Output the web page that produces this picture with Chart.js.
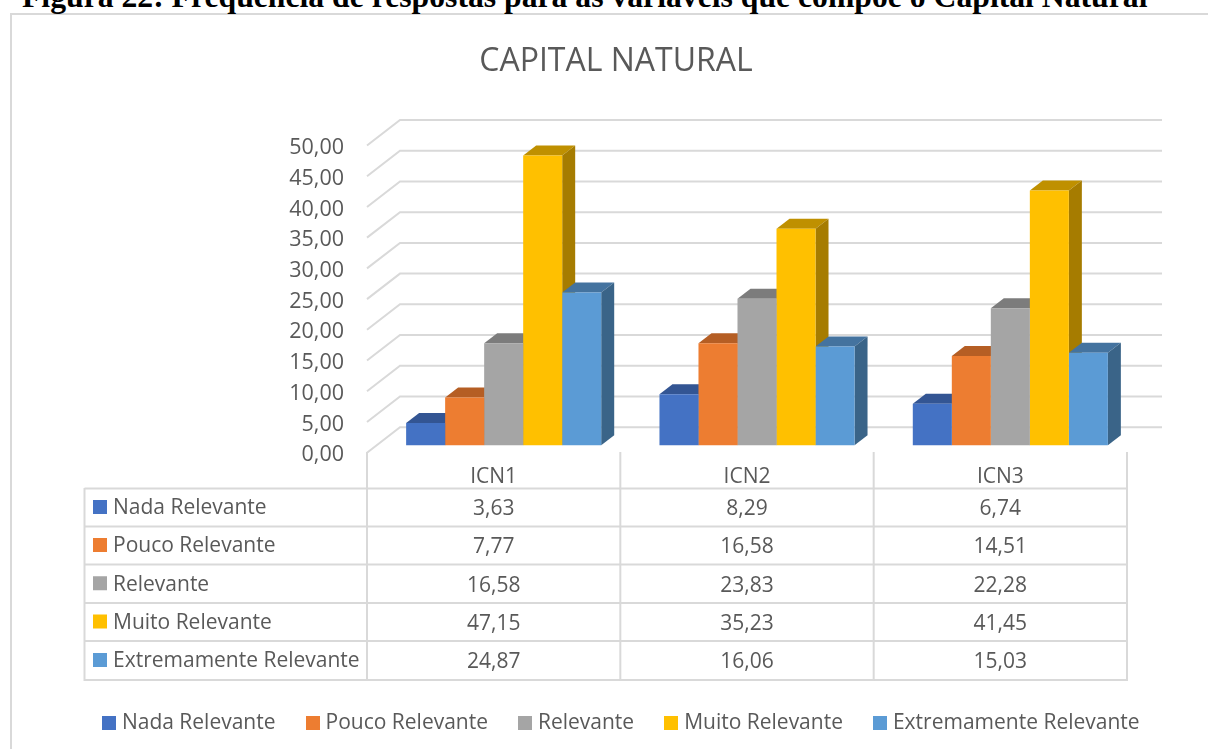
<!DOCTYPE html>
<html><head><meta charset="utf-8">
<style>
html,body{margin:0;padding:0;background:#fff;overflow:hidden}
#wrap{position:relative;width:1208px;height:749px;overflow:hidden}
#head{position:absolute;left:22px;top:-21px;font:bold 31.7px "Liberation Serif",serif;color:#000;white-space:nowrap}
#frame{position:absolute;left:10px;top:13px;width:1210px;height:760px;border:2px solid #d9d9d9;box-sizing:border-box}
canvas{position:absolute;left:0;top:0}
</style></head><body>
<div id="wrap">
<div id="frame"></div>
<div id="head">Figura 22: Frequência de respostas para as variáveis que compõe o Capital Natural</div>
<canvas id="c" width="1208" height="749"></canvas>
</div>
<script src="https://cdn.jsdelivr.net/npm/chart.js@4"></script>
<script>
const chartTitle = "CAPITAL NATURAL";
const categories = ["ICN1","ICN2","ICN3"];
const seriesNames = ["Nada Relevante","Pouco Relevante","Relevante","Muito Relevante","Extremamente Relevante"];
const nadaRelevante = [3.63,8.29,6.74];
const poucoRelevante = [7.77,16.58,14.51];
const relevante = [16.58,23.83,22.28];
const muitoRelevante = [47.15,35.23,41.45];
const extremamenteRelevante = [24.87,16.06,15.03];
const seriesValues = [nadaRelevante,poucoRelevante,relevante,muitoRelevante,extremamenteRelevante];
const colors = ["#4472C4","#ED7D31","#A5A5A5","#FFC000","#5B9BD5"];
const topColors = ["#335593","#B55E24","#7C7C7C","#BF9000","#44739F"];
const sideColors = ["#2A4A80","#9A5020","#6A6A6A","#A67C00","#3A6488"];
const FONT = '"Open Sans"';
const TEXT = "#595959", GRID = "#d9d9d9";
const fmt = v => v.toFixed(2).replace(".",",");

const swatch = c => { const s=document.createElement("canvas"); s.width=14; s.height=14;
  const g=s.getContext("2d"); g.fillStyle=c; g.fillRect(0,0,14,14); return s; };

const BAR_DX=10, BAR_DY=-10, LEGEND_SHIFT=7;
const threeD = {
  id:"threeD",
  afterLayout(chart){ chart.legend.left+=LEGEND_SHIFT; chart.legend.right+=LEGEND_SHIFT; },
  beforeDatasetsDraw(chart){
    const {ctx,scales:{x,y}} = chart;
    const L=x.left, dx=33, wallR=1162;
    ctx.save();
    ctx.strokeStyle=GRID; ctx.lineWidth=2;
    y.ticks.forEach(t=>{
      const py=y.getPixelForValue(t.value);
      ctx.beginPath(); ctx.moveTo(L,py-2.5); ctx.lineTo(L+dx,py-28); ctx.lineTo(wallR,py-28); ctx.stroke();
    });
    ctx.restore();
    ctx.save(); ctx.translate(BAR_DX,BAR_DY);
    const sx=13, sy=10;
    seriesValues.forEach((_,i)=>{
      chart.getDatasetMeta(i).data.forEach(b=>{
        const xl=b.x-b.width/2, xr=b.x+b.width/2, yt=b.y, yb=b.base;
        ctx.fillStyle=topColors[i];
        ctx.beginPath(); ctx.moveTo(xl,yt); ctx.lineTo(xl+sx,yt-sy); ctx.lineTo(xr+sx,yt-sy); ctx.lineTo(xr,yt); ctx.closePath(); ctx.fill();
        ctx.fillStyle=sideColors[i];
        ctx.beginPath(); ctx.moveTo(xr,yt); ctx.lineTo(xr+sx,yt-sy); ctx.lineTo(xr+sx,yb-sy); ctx.lineTo(xr,yb); ctx.closePath(); ctx.fill();
      });
    });
    ctx.restore();
    ctx.save(); ctx.translate(BAR_DX,BAR_DY);
  },
  afterDatasetsDraw(chart){ chart.ctx.restore(); },
  afterDraw(chart){
    const {ctx,scales:{x}} = chart;
    const rows=[488.5,526.5,564.5,603,641,680], left=84.5;
    const cols=[x.left, (x.getPixelForTick(0)+x.getPixelForTick(1))/2,
                (x.getPixelForTick(1)+x.getPixelForTick(2))/2, x.right];
    ctx.save();
    ctx.strokeStyle=GRID; ctx.lineWidth=2;
    rows.forEach(r=>{ctx.beginPath();ctx.moveTo(left,r);ctx.lineTo(x.right+1,r);ctx.stroke();});
    cols.forEach(c=>{ctx.beginPath();ctx.moveTo(c,452);ctx.lineTo(c,681);ctx.stroke();});
    ctx.beginPath();ctx.moveTo(left,488);ctx.lineTo(left,681);ctx.stroke();
    ctx.font='21px '+FONT; ctx.textBaseline="middle";
    seriesNames.forEach((n,i)=>{
      const cy=(rows[i]+rows[i+1])/2;
      ctx.fillStyle=colors[i]; ctx.fillRect(93,cy-7.5,14,14);
      ctx.fillStyle=TEXT; ctx.textAlign="left"; ctx.fillText(n,113,cy+1);
      ctx.textAlign="center";
      seriesValues[i].forEach((v,j)=>ctx.fillText(fmt(v),x.getPixelForTick(j),cy+2));
    });
    ctx.restore();
  }
};

new Chart(document.getElementById("c"),{
  type:"bar",
  data:{labels:categories,datasets:seriesNames.map((n,i)=>({label:n,data:seriesValues[i],backgroundColor:colors[i],
    borderWidth:0,categoryPercentage:0.77,barPercentage:1,clip:false}))},
  plugins:[threeD],
  options:{
    responsive:false,animation:false,
    layout:{padding:{left:24,right:0,top:0,bottom:5.8}},
    plugins:{
      tooltip:{enabled:false},
      title:{display:true,text:chartTitle,color:TEXT,font:{family:FONT,size:32,weight:"normal"},padding:{top:43,bottom:66.6}},
      legend:{position:"bottom",
        labels:{color:TEXT,font:{family:FONT,size:21},padding:34.5,usePointStyle:true,pointStyleWidth:5,boxHeight:14,
          generateLabels(chart){
            return Chart.defaults.plugins.legend.labels.generateLabels(chart).map((l,i)=>({...l,pointStyle:swatch(colors[i])}));
          }}}
    },
    scales:{
      x:{grid:{display:false},border:{display:false},
        ticks:{color:TEXT,font:{family:FONT,size:21},padding:1,maxRotation:0},
        afterFit(s){s.height=222.5;}},
      y:{min:0,max:50,grid:{display:false},border:{display:false},
        ticks:{stepSize:5,autoSkip:false,color:TEXT,font:{family:FONT,size:21.5},padding:15,callback:v=>fmt(v)},
        afterFit(s){s.width=343;}},
      rightGap:{position:"right",min:0,max:50,grid:{display:false},border:{display:false},
        ticks:{display:false},afterFit(s){s.width=81;}}
    }
  }
});
</script>
</body></html>
